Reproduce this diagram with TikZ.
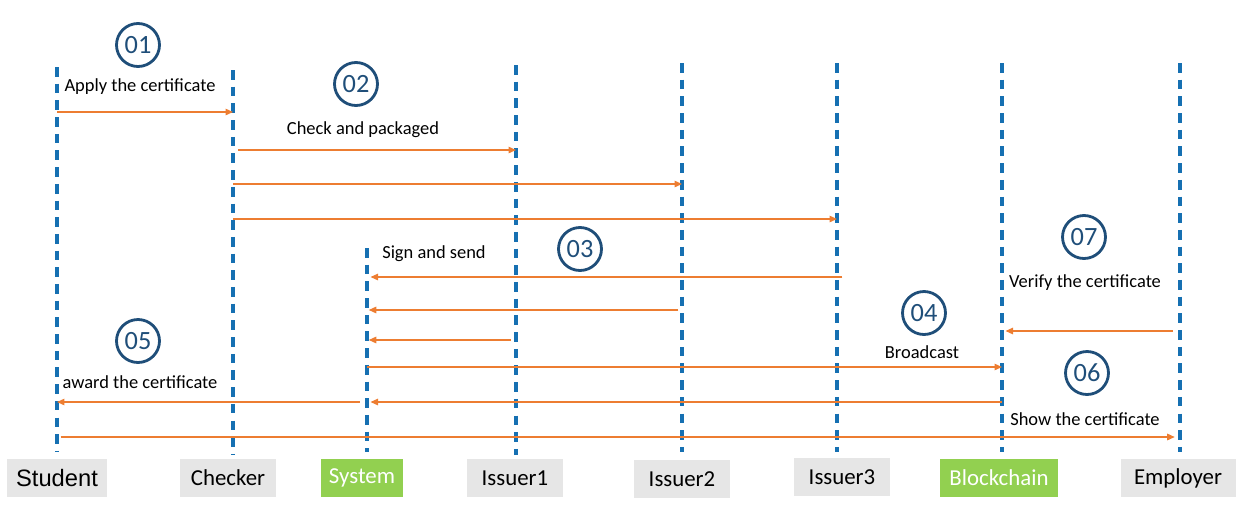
\documentclass[tikz,border=0pt]{standalone}
\usepackage{fontspec}
\setmainfont{Carlito}
\newfontfamily\arialfont{Liberation Sans}
\usetikzlibrary{arrows.meta,calc,positioning}
\definecolor{lifeblue}{RGB}{22,112,178}
\definecolor{stepblue}{RGB}{31,78,121}
\definecolor{msgorange}{RGB}{237,125,49}
\definecolor{actorgray}{RGB}{230,230,230}
\definecolor{actorgreen}{RGB}{146,208,80}
\tikzset{
  actor/.style={
    fill=actorgray,
    align=center,
    minimum height=.76cm,
    inner sep=2pt,
    font=\fontsize{13}{15}\selectfont
  },
  actorhi/.style={
    actor,
    fill=actorgreen,
    text=white
  },
  lifeline/.style={
    lifeblue,
    line width=1.9pt,
    dash pattern=on 5.5pt off 4pt
  },
  stepnum/.style={
    circle,
    draw=stepblue,
    line width=1.6pt,
    text=stepblue,
    minimum size=.86cm,
    inner sep=0pt,
    font=\fontsize{15}{17}\selectfont
  },
  lbl/.style={
    align=center,
    inner sep=1pt,
    yshift=-1.2pt,
    font=\fontsize{10.5}{12}\selectfont
  },
  msg/.style={
    -{Triangle[length=1.5mm,width=1.3mm]},
    msgorange,
    line width=.75pt
  }
}

\begin{document}
\begin{tikzpicture}[x=0.02cm,y=-0.02cm]
\useasboundingbox (0,0) rectangle (1241,518);

% actors
\node[actor, minimum width=2cm, font=\arialfont\fontsize{13.5}{15}\selectfont] (stu) at (57,478) {Student};
\node[actor, minimum width=1.92cm] (chk) at (228,478) {Checker};
\node[actorhi, minimum width=1.64cm] (sys) at (362,478) {System};
\node[actor, minimum width=1.94cm] (is1) at (515,478) {Issuer1};
\node[actor, minimum width=1.92cm] (is2) at (682,479) {Issuer2};
\node[actor, minimum width=1.92cm] (is3) at (842,477) {Issuer3};
\node[actorhi, minimum width=2.36cm] (bc) at (999,478) {Blockchain};
\node[actor, minimum width=2.3cm] (emp) at (1178,478) {Employer};

% lifelines
\coordinate (stu-t) at (57,67);   \coordinate (stu-b) at (57,452);
\coordinate (chk-t) at (233,70);  \coordinate (chk-b) at (233,455);
\coordinate (sys-t) at (367,248); \coordinate (sys-b) at (367,452);
\coordinate (is1-t) at (516,65);  \coordinate (is1-b) at (516,455);
\coordinate (is2-t) at (682,63);  \coordinate (is2-b) at (682,452);
\coordinate (is3-t) at (837,63);  \coordinate (is3-b) at (837,452);
\coordinate (bc-t) at (1002,63);  \coordinate (bc-b) at (1002,452);
\coordinate (emp-t) at (1180,63); \coordinate (emp-b) at (1180,452);
\foreach \a in {stu,chk,sys,is1,is2,is3,bc,emp}
  \draw[lifeline] (\a-t) -- (\a-b);

% steps
\node[stepnum] (s1) at (138,45) {01};
\node[stepnum] (s2) at (356,84) {02};
\node[stepnum] (s3) at (580,249) {03};
\node[stepnum] (s4) at (924,313) {04};
\node[stepnum] (s5) at (138,341) {05};
\node[stepnum] (s6) at (1087,373) {06};
\node[stepnum] (s7) at (1084,237) {07};

\node[lbl] (l1) at (140,84) {Apply the certificate};
\node[lbl] (l2) at (363,128) {Check and packaged};
\node[lbl] (l3) at (434,252) {Sign and send};
\node[lbl] (l4) at (922,350) {Broadcast};
\node[lbl] (l5) at (140,380) {award the certificate};
\node[lbl] (l6) at (1085,417) {Show the certificate};
\node[lbl] (l7) at (1085,280) {Verify the certificate};

% messages
\coordinate (m1) at (0,112);
\coordinate (m2) at (0,150);
\coordinate (m3) at (0,184);
\coordinate (m4) at (0,219);
\coordinate (m5) at (0,277);
\coordinate (m6) at (0,310);
\coordinate (m7) at (0,340);
\coordinate (m8) at (0,331);
\coordinate (m9) at (0,367);
\coordinate (m10) at (0,402);
\coordinate (m11) at (0,437);
\draw[msg] (stu-t |- m1) -- (chk-t |- m1);
\draw[msg] ([xshift=3]chk-t |- m2) -- (is1-t |- m2);
\draw[msg] (chk-t |- m3) -- (is2-t |- m3);
\draw[msg] (chk-t |- m4) -- (is3-t |- m4);
\draw[msg] ([xshift=3]is3-t |- m5) -- ([xshift=2]sys-t |- m5);
\draw[msg] ([xshift=-2]is2-t |- m6) -- ([xshift=1]sys-t |- m6);
\draw[msg] ([xshift=-3]is1-t |- m7) -- ([xshift=1]sys-t |- m7);
\draw[msg] ([xshift=-4]emp-t |- m8) -- ([xshift=2]bc-t |- m8);
\draw[msg] (sys-t |- m9) -- (bc-t |- m9);
\draw[msg] (bc-t |- m10) -- ([xshift=2]sys-t |- m10);
\draw[msg] ([xshift=-4]sys-t |- m10) -- (stu-t |- m10);
\draw[msg] ([xshift=2]stu-t |- m11) -- ([xshift=-3]emp-t |- m11);
\end{tikzpicture}
\end{document}
